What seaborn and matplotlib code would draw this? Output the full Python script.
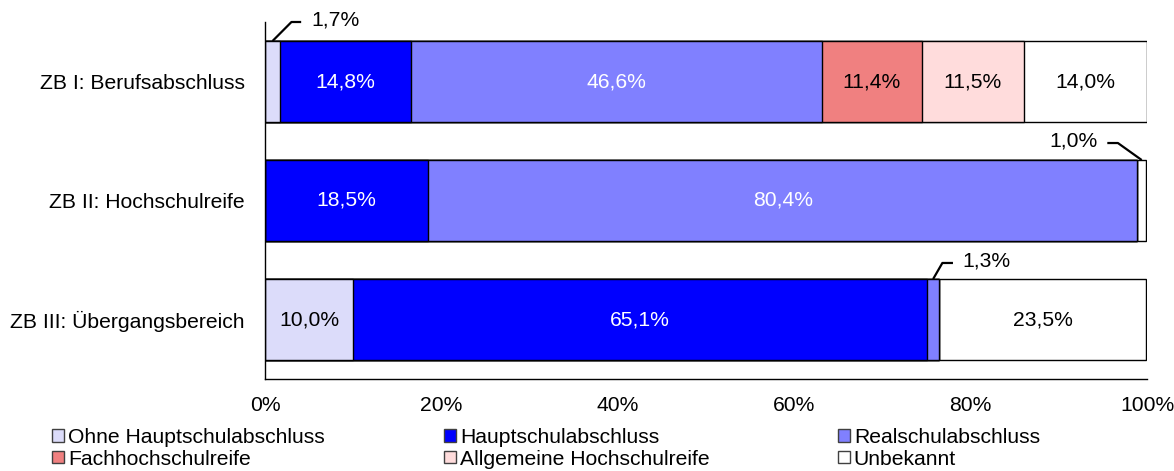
import numpy as np
import matplotlib
matplotlib.use("Agg")
import matplotlib.pyplot as plt
import matplotlib.patches as mpatches
import seaborn as sns

categories = ["ZB I: Berufsabschluss", "ZB II: Hochschulreife", "ZB III: Übergangsbereich"]
series_names = ["Ohne Hauptschulabschluss", "Hauptschulabschluss", "Realschulabschluss",
                "Fachhochschulreife", "Allgemeine Hochschulreife", "Unbekannt"]
ohne = [1.7, 0.0, 10.0]
haupt = [14.8, 18.5, 65.1]
real = [46.6, 80.4, 1.3]
fach = [11.4, 0.0, 0.0]
allg = [11.5, 0.0, 0.0]
unbek = [14.0, 1.0, 23.5]
xticks = [0, 20, 40, 60, 80, 100]

colors = ["#DCDCFA", "#0000FF", "#8080FF", "#F08080", "#FFDCDC", "#FFFFFF"]
text_colors = ["black", "white", "white", "black", "black", "black"]

sns.set_style("white")
plt.rcParams["font.family"] = ["Liberation Sans", "DejaVu Sans"]
plt.rcParams["font.size"] = 15
plt.rcParams["text.color"] = "black"
plt.rcParams["xtick.color"] = "black"
plt.rcParams["ytick.color"] = "black"
FS = 15.2

values = np.array([ohne, haupt, real, fach, allg, unbek])
cum = values.cumsum(axis=0)
starts = cum - values

fig = plt.figure(figsize=(11.74, 4.71), dpi=100)
ax = fig.add_axes([265 / 1174, 1 - 379 / 471, 882 / 1174, 357 / 471])

bar_h = 0.68
# stacked bars: draw cumulative totals from the widest down, each on top of the last
for k in range(len(series_names) - 1, -1, -1):
    sns.barplot(x=cum[k], y=categories, orient="h", color=colors[k], saturation=1,
                edgecolor="black", linewidth=1.0, width=bar_h, ax=ax)

# labels inside the segments (skip the small ones, they get leader lines)
small = []
for k in range(len(series_names)):
    for i in range(len(categories)):
        v = values[k, i]
        if v <= 0:
            continue
        if v < 5:
            small.append((k, i))
            continue
        ax.text(starts[k, i] + v / 2, i, f"{v:.1f}%".replace(".", ","),
                ha="center", va="center", color=text_colors[k], fontsize=FS)

# leader lines: (elbow dx, elbow y, end dx, text dx, ha) relative to segment centre
leaders = {
    (0, 0): (2.15, -0.50, 3.25, 4.4, "left"),
    (5, 1): (-2.7, 0.517, -3.9, -5.0, "right"),
    (2, 2): (1.05, 1.525, 2.25, 3.35, "left"),
}
for (k, i) in small:
    v = values[k, i]
    xc = starts[k, i] + v / 2
    ytop = i - bar_h / 2
    dx1, ye, dx2, dxt, ha = leaders[(k, i)]
    ax.plot([xc, xc + dx1, xc + dx2], [ytop, ye, ye], color="black", lw=1.6,
            clip_on=False, solid_capstyle="butt")
    ax.text(xc + dxt, ye - 0.02, f"{v:.1f}%".replace(".", ","), ha=ha, va="center",
            fontsize=FS)

ax.set_xlim(0, 100)
ax.set_ylim(2.5, -0.5)
ax.set_xticks(xticks)
ax.set_xticklabels([f"{t}%" for t in xticks])
ax.set_xlabel("")
ax.set_ylabel("")
ax.tick_params(axis="x", length=5, width=1, color="#808080", pad=7, labelsize=FS)
ax.tick_params(axis="y", length=0, pad=14.5, labelsize=FS)
for s in ["top", "right"]:
    ax.spines[s].set_visible(False)
for s in ["left", "bottom"]:
    ax.spines[s].set_color("black")
    ax.spines[s].set_linewidth(1.0)

# legend in three columns, placed at fixed positions
handles = [mpatches.Patch(facecolor=c, edgecolor="#404040", linewidth=1.0) for c in colors]
col_x = [52, 444, 838]
for j in range(3):
    fig.legend([handles[j], handles[j + 3]], [series_names[j], series_names[j + 3]],
               loc="upper left", bbox_to_anchor=(col_x[j] / 1174, 1 - 428 / 471),
               frameon=False, fontsize=FS, handlelength=0.55, handleheight=0.55,
               handletextpad=0.2, labelspacing=0.12, borderpad=0, borderaxespad=0)

fig.savefig("out.png", dpi=100)
